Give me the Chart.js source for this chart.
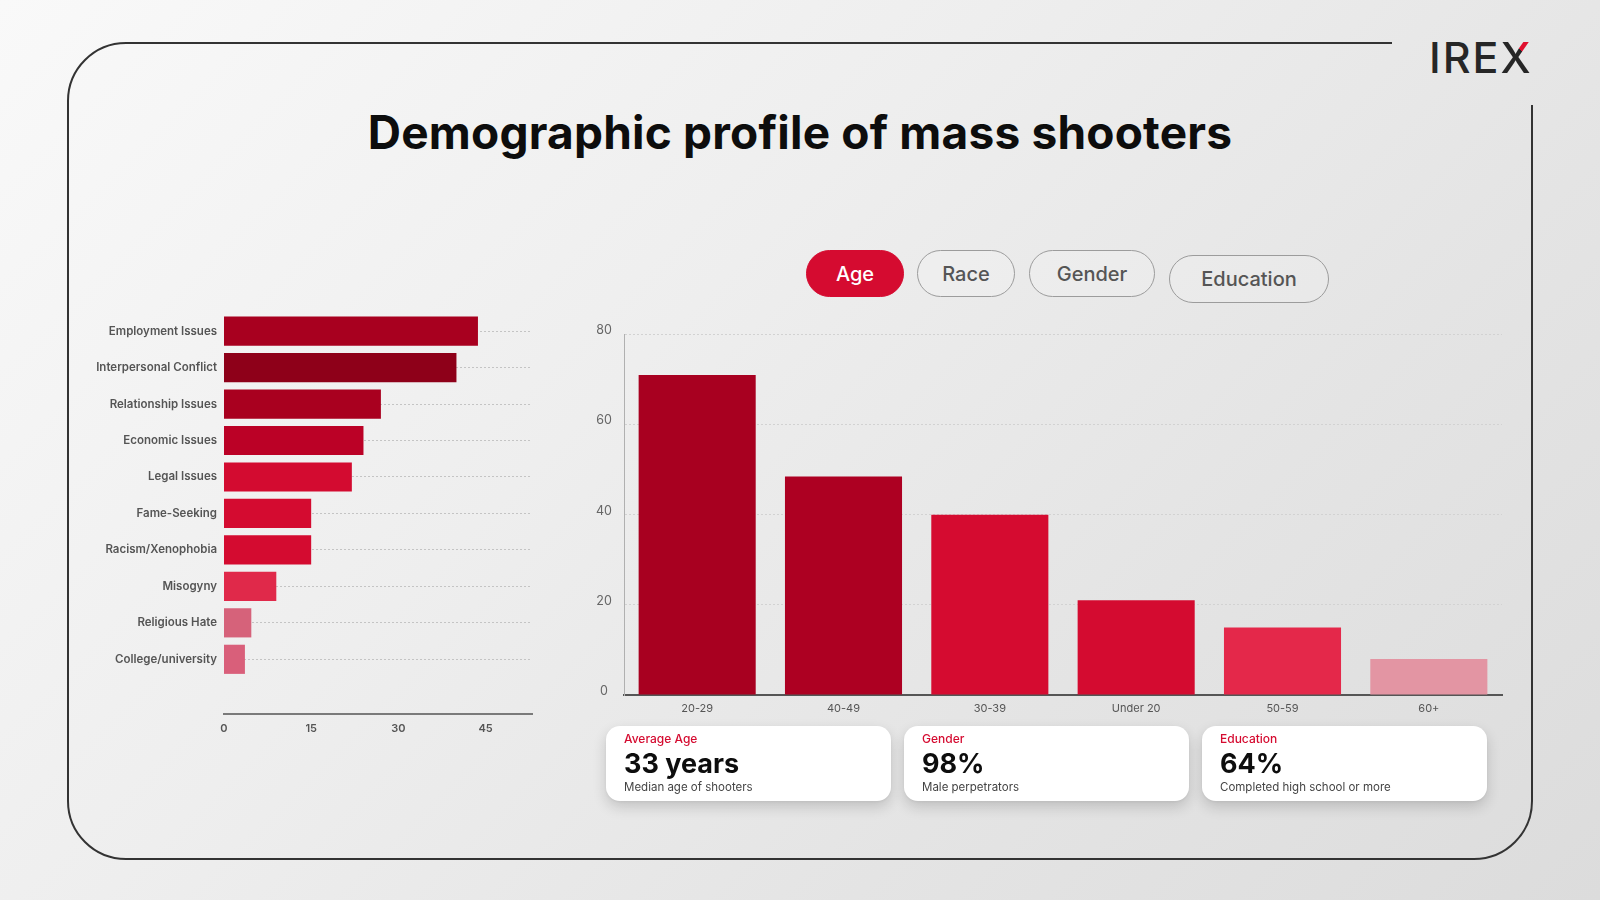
<!DOCTYPE html>
<html>
<head>
<meta charset="utf-8">
<script src="https://cdn.jsdelivr.net/npm/chart.js@4.4.1/dist/chart.umd.min.js"></script>
<style>
html,body{margin:0;padding:0;width:1600px;height:900px;overflow:hidden;}
body{position:relative;background:linear-gradient(135deg,#f9f9f9 0%,#eeeeee 40%,#e4e4e4 70%,#dcdcdc 100%);font-family:Inter,"Open Sans",sans-serif;}
#frame{position:absolute;left:0;top:0;}
#title{position:absolute;left:0;top:110px;width:1600px;text-align:center;font-size:46px;line-height:45px;font-weight:700;color:#0d0d0d;letter-spacing:0.2px;}
#logo{position:absolute;left:1429px;top:36px;font-size:43px;line-height:43px;font-weight:500;color:#262626;letter-spacing:2px;white-space:nowrap;}
#logo .x{display:inline-block;line-height:31px;vertical-align:baseline;letter-spacing:0;background:linear-gradient(to bottom left,#e0102f 0%,#e0102f 31%,#262626 31%,#262626 100%);-webkit-background-clip:text;background-clip:text;color:transparent;}
.pill{position:absolute;box-sizing:border-box;border:1.3px solid #9c9c9c;border-radius:26px;display:flex;align-items:center;justify-content:center;font-size:20px;font-weight:500;color:#555;background:rgba(255,255,255,0.15);}
.pill.active{background:#d50b30;border-color:#d50b30;color:#fff;}
canvas{position:absolute;}
.card{position:absolute;top:726px;width:285px;height:75px;background:#fff;border-radius:14px;box-shadow:0 6px 14px rgba(0,0,0,0.16),0 1px 3px rgba(0,0,0,0.06);}
.card .lab{position:absolute;left:18px;top:5px;line-height:16px;font-size:12px;font-weight:500;color:#d50b30;}
.card .val{position:absolute;left:18px;top:22px;line-height:32px;font-size:27px;font-weight:700;color:#0d0d0d;}
.card .note{position:absolute;left:18px;top:53px;line-height:16px;font-size:11.5px;font-weight:400;color:#444;}
</style>
</head>
<body>
<svg id="frame" width="1600" height="900">
  <path d="M 1392 43 L 126 43 A 58 58 0 0 0 68 101 L 68 801 A 58 58 0 0 0 126 859 L 1474 859 A 58 58 0 0 0 1532 801 L 1532 105" fill="none" stroke="#333" stroke-width="2"/>
</svg>
<div id="title">Demographic profile of mass shooters</div>
<div id="logo">IRE<span class="x">X</span></div>
<div id="pills"></div>
<canvas id="leftChart" width="480" height="451" style="left:60px;top:299px;width:480px;height:451px;"></canvas>
<canvas id="rightChart" width="945" height="410" style="left:570px;top:315px;width:945px;height:410px;"></canvas>
<div id="cards"></div>
<script>
// ---- data ----
const causeLabels = ['Employment Issues','Interpersonal Conflict','Relationship Issues','Economic Issues','Legal Issues','Fame-Seeking','Racism/Xenophobia','Misogyny','Religious Hate','College/university'];
const causeValues = [43.7, 40, 27, 24, 22, 15, 15, 9, 4.7, 3.6];
const causeTicks = [0, 15, 30, 45];

const ageLabels = ['20-29','40-49','30-39','Under 20','50-59','60+'];
const ageValues = [71, 48.5, 40, 21, 15, 8];
const ageTicks = [0, 20, 40, 60, 80];

const tabLabels = ['Age','Race','Gender','Education'];

const statLabels = ['Average Age','Gender','Education'];
const statValues = ['33 years','98%','64%'];
const statNotes = ['Median age of shooters','Male perpetrators','Completed high school or more'];

// ---- styles ----
const causeColors = ['#a8001f','#8e0019','#a9001f','#bb0126','#d30b30','#d40b30','#d40b30','#e0294a','#d6627a','#d95f7a'];
const ageColors = ['#a80020','#ad0022','#d50b30','#d40b30','#e4284a','#e395a3'];
const pillBoxes = [[806,250,98,47],[917,250,98,47],[1029,250,126,47],[1169,255,160,48]];
const cardLefts = [606,904,1202];

// pills
const pillsEl = document.getElementById('pills');
tabLabels.forEach((t,i)=>{
  const d=document.createElement('div');
  d.className='pill'+(i===0?' active':'');
  const b=pillBoxes[i];
  d.style.left=b[0]+'px';d.style.top=b[1]+'px';d.style.width=b[2]+'px';d.style.height=b[3]+'px';
  d.textContent=t;
  pillsEl.appendChild(d);
});
// cards
const cardsEl=document.getElementById('cards');
statLabels.forEach((l,i)=>{
  const c=document.createElement('div');
  c.className='card';c.style.left=cardLefts[i]+'px';
  c.innerHTML='<div class="lab"></div><div class="val"></div><div class="note"></div>';
  c.querySelector('.lab').textContent=l;
  c.querySelector('.val').textContent=statValues[i];
  c.querySelector('.note').textContent=statNotes[i];
  cardsEl.appendChild(c);
});

Chart.defaults.font.family = 'Inter, "Open Sans", sans-serif';

new Chart(document.getElementById('leftChart'), {
  type:'bar',
  data:{
    labels:[...causeLabels,''],
    datasets:[{data:[...causeValues,null],backgroundColor:causeColors,borderWidth:0,barPercentage:0.8,categoryPercentage:1}]
  },
  options:{
    indexAxis:'y',responsive:false,animation:false,devicePixelRatio:1,
    layout:{padding:{left:0,right:8,top:0,bottom:6}},
    plugins:{legend:{display:false},tooltip:{enabled:false}},
    scales:{
      x:{min:0,max:53,
        afterBuildTicks:(a)=>{a.ticks=causeTicks.map(v=>({value:v}));},
        afterFit:(s)=>{s.height=30;},
        grid:{display:false,drawTicks:false},
        border:{display:true,color:'#7a7a7a',width:2},
        ticks:{padding:8,color:'#555',font:{size:11,weight:'600'}}},
      y:{
        afterFit:(s)=>{s.width=164;},
        grid:{display:true,offset:false,drawTicks:false,lineWidth:1,
          color:(c)=>c.index>=causeLabels.length?'rgba(0,0,0,0)':'#c4c4c4'},
        border:{display:false,dash:[2,2]},
        ticks:{padding:7,color:'#555',font:{size:11.5,weight:'600'}}}
    }
  }
});

new Chart(document.getElementById('rightChart'), {
  type:'bar',
  data:{
    labels:ageLabels,
    datasets:[{data:ageValues,backgroundColor:ageColors,borderWidth:0,barPercentage:0.8,categoryPercentage:1}]
  },
  options:{
    responsive:false,animation:false,devicePixelRatio:1,
    layout:{padding:{left:0,right:13,top:0,bottom:0}},
    plugins:{legend:{display:false},tooltip:{enabled:false}},
    scales:{
      x:{
        afterFit:(s)=>{s.height=30;},
        grid:{display:false,drawTicks:false},
        border:{display:true,color:'#555',width:2},
        ticks:{padding:7,color:'#555',font:{size:11}}},
      y:{min:0,max:80,
        afterBuildTicks:(a)=>{a.ticks=ageTicks.map(v=>({value:v}));},
        afterFit:(s)=>{s.width=54;},
        grid:{display:true,drawTicks:false,color:'#d2d2d2',lineWidth:1},
        border:{display:true,color:'#b0b0b0',width:1,dash:[2,2]},
        ticks:{padding:12,crossAlign:'center',labelOffset:-4,color:'#666',font:{size:12.5}}}
    }
  }
});
</script>
</body>
</html>
